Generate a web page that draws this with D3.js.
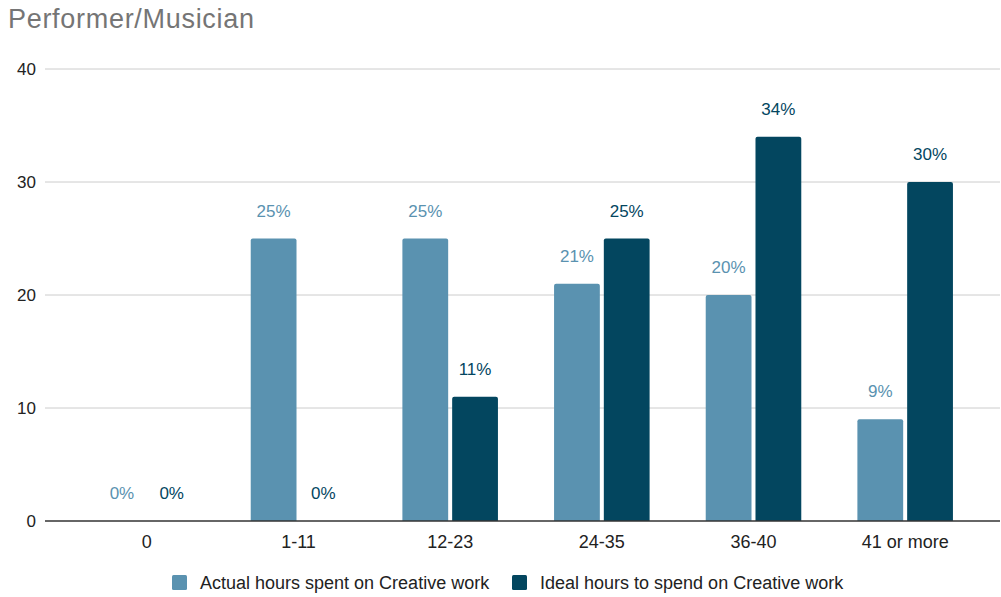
<!DOCTYPE html>
<html>
<head>
<meta charset="utf-8">
<script src="https://cdn.jsdelivr.net/npm/d3@7"></script>
<style>
  body { margin: 0; background: #fff; }
  svg text { font-family: "Liberation Sans", Arial, sans-serif; }
</style>
</head>
<body>
<svg id="chart" width="1001" height="597"></svg>
<script>
// chart data
const categories = ["0", "1-11", "12-23", "24-35", "36-40", "41 or more"];
const actualHours = [0, 25, 25, 21, 20, 9];
const idealHours = [0, 0, 11, 25, 34, 30];
const yTicks = [0, 10, 20, 30, 40];
const seriesNames = ["Actual hours spent on Creative work", "Ideal hours to spend on Creative work"];
const seriesColors = ["#5a92b0", "#03465f"];

const width = 1001, height = 597;
const margin = { left: 45, right: 1, top: 69, bottom: 76 };

const svg = d3.select("#chart");

const y = d3.scaleLinear().domain([0, 40]).range([521, 69]);
const x = d3.scaleBand().domain(categories).range([71, 981]).paddingInner(0.37).paddingOuter(0.185);
const inner = d3.scaleBand().domain([0, 1]).range([0, x.bandwidth()]).paddingInner(0.08);

// title
svg.append("text")
  .attr("x", 8).attr("y", 28)
  .attr("fill", "#757575")
  .style("font-size", "27px")
  .style("letter-spacing", "0.7px")
  .text("Performer/Musician");

// grid lines
svg.append("g")
  .selectAll("line")
  .data(yTicks.filter(d => d > 0))
  .enter()
  .append("line")
  .attr("x1", margin.left).attr("x2", width - 1)
  .attr("y1", d => y(d)).attr("y2", d => y(d))
  .attr("stroke", "#cccccc").attr("stroke-width", 1);

// y tick labels
svg.append("g")
  .selectAll("text")
  .data(yTicks)
  .enter()
  .append("text")
  .attr("x", 36).attr("y", d => y(d) + 6)
  .attr("text-anchor", "end")
  .attr("fill", "#222")
  .style("font-size", "17px")
  .text(d => d);

// bars
const series = [actualHours, idealHours];
const groups = svg.append("g")
  .selectAll("g")
  .data(categories)
  .enter()
  .append("g")
  .attr("transform", d => `translate(${x(d)},0)`);

function barPath(x0, w, top, bottom) {
  if (bottom - top <= 0) return "";
  const r = Math.min(2, (bottom - top));
  return `M${x0},${bottom}V${top + r}Q${x0},${top} ${x0 + r},${top}H${x0 + w - r}Q${x0 + w},${top} ${x0 + w},${top + r}V${bottom}Z`;
}

groups.each(function(cat, i) {
  const g = d3.select(this);
  series.forEach((vals, s) => {
    const v = vals[i];
    g.append("path")
      .attr("d", barPath(inner(s), inner.bandwidth(), y(v), y(0)))
      .attr("fill", seriesColors[s]);
    g.append("text")
      .attr("x", inner(s) + inner.bandwidth() / 2)
      .attr("y", y(v) - 22)
      .attr("text-anchor", "middle")
      .attr("fill", seriesColors[s])
      .style("font-size", "17px")
      .text(v + "%");
  });
});

// baseline
svg.append("line")
  .attr("x1", margin.left).attr("x2", width - 1)
  .attr("y1", y(0)).attr("y2", y(0))
  .attr("stroke", "#333").attr("stroke-width", 1.3);

// x labels
svg.append("g")
  .selectAll("text")
  .data(categories)
  .enter()
  .append("text")
  .attr("x", d => x(d) + x.bandwidth() / 2)
  .attr("y", 548)
  .attr("text-anchor", "middle")
  .attr("fill", "#222")
  .style("font-size", "18px")
  .text(d => d);

// legend
const legendX = [172, 512];
const legend = svg.append("g")
  .selectAll("g")
  .data(seriesNames)
  .enter()
  .append("g")
  .attr("transform", (d, i) => `translate(${legendX[i]},575)`);
legend.append("rect")
  .attr("width", 15).attr("height", 15).attr("rx", 1.5)
  .attr("fill", (d, i) => seriesColors[i]);
legend.append("text")
  .attr("x", 28).attr("y", 14)
  .attr("fill", "#222")
  .style("font-size", "18px")
  .text(d => d);
</script>
</body>
</html>
